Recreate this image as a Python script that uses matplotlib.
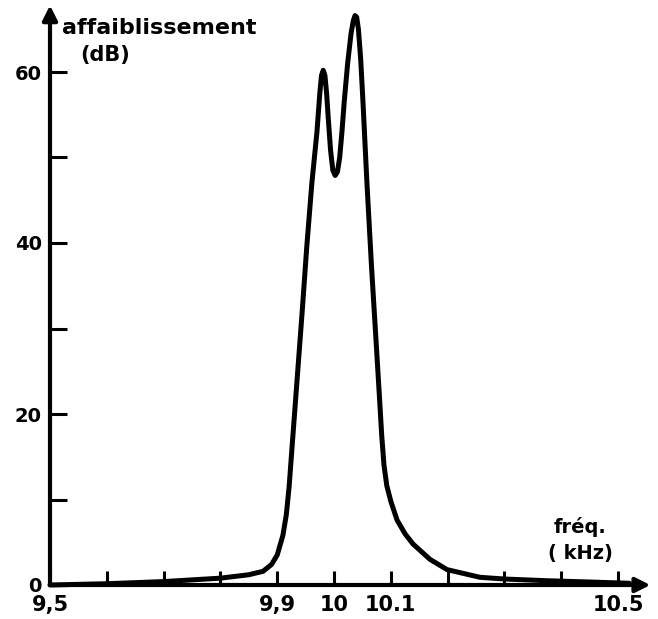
#! /usr/bin/env python3
import matplotlib
matplotlib.use('Agg')
from matplotlib import pyplot as plt

# filter attenuation curve
freq = [9.50, 9.60, 9.70, 9.80, 9.85, 9.875, 9.89, 9.90, 9.91, 9.916,
        9.921, 9.926, 9.935, 9.944, 9.952, 9.961, 9.970, 9.975, 9.978,
        9.981, 9.984, 9.987, 9.990, 9.994, 9.998, 10.002, 10.006, 10.010,
        10.014, 10.018, 10.024, 10.030, 10.034, 10.037, 10.040, 10.043,
        10.047, 10.051, 10.058, 10.066, 10.075, 10.080, 10.084, 10.088,
        10.093, 10.100, 10.111, 10.125, 10.139, 10.169, 10.199, 10.257,
        10.30, 10.375, 10.45, 10.52]
att = [0.0, 0.15, 0.4, 0.8, 1.2, 1.6, 2.4, 3.5, 5.8, 8.2,
       11.5, 16.0, 24.0, 32.0, 39.5, 47.0, 53.0, 57.5, 59.6,
       60.2, 59.6, 57.5, 54.5, 50.8, 48.5, 47.9, 48.3, 50.0,
       53.0, 56.5, 61.0, 64.5, 66.0, 66.6, 66.4, 65.0,
       61.5, 56.5, 47.0, 37.3, 27.5, 22.0, 17.5, 14.0,
       11.6, 9.8, 7.6, 6.0, 4.8, 3.0, 1.8, 0.9,
       0.7, 0.5, 0.35, 0.2]

xticks = [9.5, 9.6, 9.7, 9.8, 9.9, 10.0, 10.1, 10.2, 10.3, 10.4, 10.5]
xticklabels = ['9,5', '', '', '', '9,9', '10', '10.1', '', '', '', '10.5']
yticks = [0, 10, 20, 30, 40, 50, 60]
yticklabels = ['0', '', '20', '', '40', '', '60']

font = dict(family='DejaVu Sans', weight='bold', size=14)
xfont = dict(font, size=15)

fig = plt.figure(figsize=(6.58, 6.19), dpi=100)
ax = fig.add_axes([50 / 658, 34 / 619, 568 / 658, 513 / 619])
ax.set_xlim(9.5, 10.5)
ax.set_ylim(0, 60)

for s in ax.spines.values():
    s.set_visible(False)

# hand-drawn style axes with arrow heads
ax.annotate('', xy=(10.557, 0), xytext=(9.5, 0),
            arrowprops=dict(arrowstyle='-|>', lw=3, color='black',
                            mutation_scale=22, shrinkA=0, shrinkB=0),
            annotation_clip=False)
ax.annotate('', xy=(9.5, 67.8), xytext=(9.5, 0),
            arrowprops=dict(arrowstyle='-|>', lw=3, color='black',
                            mutation_scale=22, shrinkA=0, shrinkB=0),
            annotation_clip=False)

ax.plot(freq, att, color='black', linewidth=3.6, clip_on=False,
        solid_joinstyle='round', solid_capstyle='round')

ax.set_xticks(xticks)
ax.set_xticklabels(xticklabels, fontdict=xfont)
ax.set_yticks(yticks)
ax.set_yticklabels(yticklabels, fontdict=font)
ax.tick_params(axis='x', direction='in', length=10, width=2.2, pad=7)
ax.tick_params(axis='y', direction='in', length=12, width=2.2, pad=6)

ax.text(9.521, 65.1, 'affaiblissement', ha='left', va='center',
        fontdict=dict(font, size=16), clip_on=False)
ax.text(9.553, 62.0, '(dB)', ha='left', va='center',
        fontdict=dict(font, size=15), clip_on=False)
ax.text(10.386, 6.8, 'fréq.', ha='left', va='center',
        fontdict=font, clip_on=False)
ax.text(10.377, 3.7, '( kHz)', ha='left', va='center',
        fontdict=font, clip_on=False)

fig.savefig('out.png', dpi=100)
